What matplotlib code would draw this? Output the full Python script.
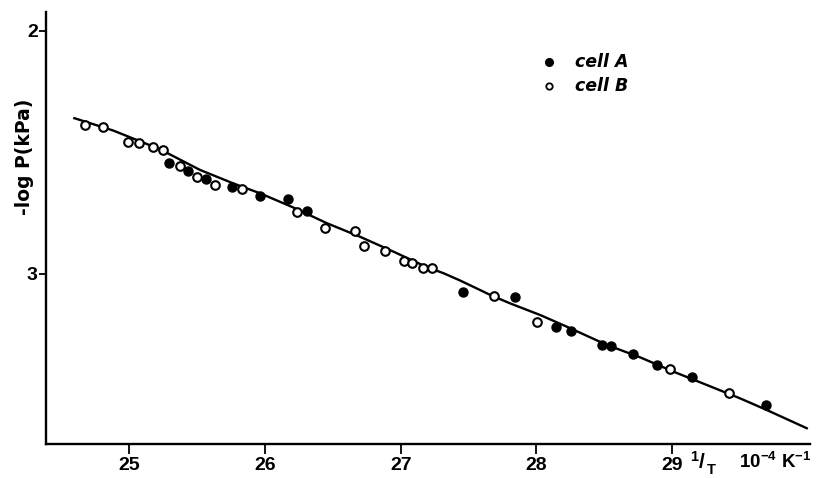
import matplotlib
matplotlib.use("Agg")
import matplotlib.pyplot as plt

plt.rcParams['font.family'] = ['Liberation Sans', 'DejaVu Sans']
plt.rcParams['mathtext.fontset'] = 'custom'
plt.rcParams['mathtext.rm'] = 'Liberation Sans:bold'
plt.rcParams['mathtext.bf'] = 'Liberation Sans:bold'
plt.rcParams['mathtext.it'] = 'Liberation Sans:bold'
plt.rcParams['mathtext.default'] = 'bf'

# cell A (filled circles)
cellA_x = [25.293, 25.430, 25.565, 25.755, 25.963, 26.167, 26.311, 27.461, 27.842,
           28.144, 28.255, 28.481, 28.550, 28.714, 28.891, 29.144, 29.692]
cellA_y = [2.542, 2.576, 2.609, 2.643, 2.678, 2.692, 2.741, 3.074, 3.095,
           3.217, 3.235, 3.292, 3.296, 3.329, 3.374, 3.423, 3.538]

# cell B (open circles)
cellB_x = [24.674, 24.808, 24.993, 25.071, 25.172, 25.251, 25.374, 25.501, 25.634,
           25.828, 26.238, 26.442, 26.663, 26.732, 26.884, 27.024, 27.085, 27.167,
           27.228, 27.691, 28.002, 28.985, 29.422]
cellB_y = [2.387, 2.396, 2.458, 2.462, 2.476, 2.490, 2.556, 2.600, 2.634,
           2.651, 2.744, 2.809, 2.822, 2.885, 2.904, 2.947, 2.956, 2.977,
           2.977, 3.089, 3.196, 3.390, 3.491]

# fitted curve
fit_x = [24.595, 24.882, 25.226, 25.521, 25.764, 25.963, 26.206, 26.455, 26.700,
         26.945, 27.192, 27.315, 27.437, 27.550, 27.658, 27.805, 28.027, 28.223,
         28.518, 28.763, 29.009, 29.255, 29.500, 29.697, 29.992]
fit_y = [2.359, 2.410, 2.487, 2.572, 2.627, 2.668, 2.726, 2.791, 2.847,
         2.908, 2.972, 2.997, 3.027, 3.057, 3.086, 3.121, 3.169, 3.217,
         3.292, 3.343, 3.402, 3.457, 3.512, 3.560, 3.635]

xticks = [25, 26, 27, 28, 29]
yticks = [2, 3]

W, H = 822, 478
fig = plt.figure(figsize=(W / 100, H / 100), dpi=100)
ax = fig.add_axes([46 / W, 34 / H, (810 - 46) / W, (444 - 12) / H])

ax.plot(fit_x, fit_y, color='black', lw=1.7, zorder=2)
ax.plot(cellA_x, cellA_y, 'o', color='black', ms=6.5, zorder=3)
ax.plot(cellB_x, cellB_y, 'o', mfc='white', mec='black', ms=6.2, mew=1.5, zorder=3)

ax.set_xlim(24.386, 30.016)
ax.set_ylim(3.70, 1.922)

for s in ['top', 'right']:
    ax.spines[s].set_visible(False)
for s in ['left', 'bottom']:
    ax.spines[s].set_linewidth(1.7)

ax.set_xticks(xticks)
ax.set_xticklabels([str(t) for t in xticks], fontweight='bold', fontsize=14)
ax.set_yticks(yticks)
ax.set_yticklabels([str(t) for t in yticks], fontweight='bold', fontsize=14)
ax.tick_params(axis='x', direction='out', length=7, width=1.3, pad=2)
ax.tick_params(axis='y', direction='out', length=5, width=1.3, pad=1)

ax.set_ylabel('-log P(kPa)', fontweight='bold', fontsize=13.5, family=['DejaVu Sans'])
ax.yaxis.set_label_coords((34 - 46) / (810 - 46), (444 - 157) / (444 - 12))

# x-axis unit label: 1/T  10^-4 K^-1
def fx(px):
    return px / W

def fy(py):
    return 1 - py / H

fig.text(fx(694), fy(461), '1', fontsize=10.5, fontweight='bold', ha='center', va='baseline')
fig.text(fx(702), fy(468), '/', fontsize=15, fontweight='bold', ha='center', va='baseline')
fig.text(fx(711), fy(474), 'T', fontsize=10.5, fontweight='bold', ha='center', va='baseline')
fig.text(fx(739), fy(468), r'$10^{-4}\ K^{-1}$', fontsize=13.5, ha='left', va='baseline')

# legend
lx = 25 + (549 - 129.3) / 135.7
tx = 25 + (575 - 129.3) / 135.7
ya = 2 + (62 - 31) / 243
yb = 2 + (86 - 31) / 243
ax.plot([lx], [ya], 'o', color='black', ms=5.5, clip_on=False)
ax.plot([lx], [yb], 'o', mfc='white', mec='black', ms=4.6, mew=1.3, clip_on=False)
ax.text(tx, ya, 'cell A', fontweight='bold', style='italic', family=['DejaVu Sans'],
        fontsize=12.5, va='center', ha='left')
ax.text(tx, yb, 'cell B', fontweight='bold', style='italic', family=['DejaVu Sans'],
        fontsize=12.5, va='center', ha='left')

fig.savefig('out.png', dpi=100)
